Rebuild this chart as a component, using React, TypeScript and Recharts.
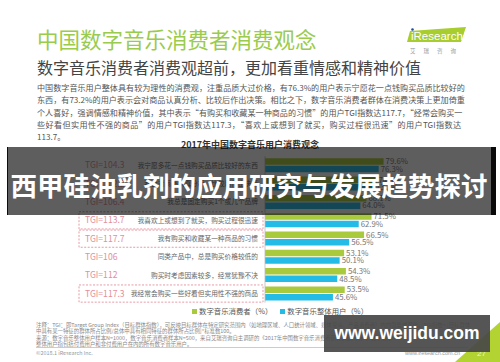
import React from "react";
import { BarChart, Bar, XAxis, YAxis, LabelList } from "recharts";

const categories = [
  "我宁愿多花一点钱购买品质比较好的东西",
  "我会对商品认真分析、比较后作出决策",
  "我总是固定购买1个或几个品牌",
  "我喜欢上或想到了就买，购买过程很迅速",
  "我有购买和收藏某一种商品的习惯",
  "同类产品中，总是购买价格较低的",
  "购买时考虑因素较多，经常犹豫不决",
  "我经常会购买一些好看但实用性不强的商品",
];
const tgiLabels = ["TGI=104.3", "TGI=102.2", "TGI=106.4", "TGI=113.7", "TGI=117.7", "TGI=106", "TGI=112", "TGI=117.3"];
const boxed = [false, false, false, true, true, false, false, true];
const consumers = [79.6, 74.8, 68.1, 71.5, 66.5, 53.1, 54.3, 53.5];
const allUsers = [76.3, 73.2, 64.0, 62.9, 56.5, 50.1, 48.5, 45.6];
const seriesNames = ["数字音乐消费者（%）", "数字音乐整体用户（%）"];

const paragraph = [
  "中国数字音乐用户整体具有较为理性的消费观，注重品质大过价格，有76.3%的用户表示宁愿花一点钱购买品质比较好的",
  "东西，有73.2%的用户表示会对商品认真分析、比较后作出决策。相比之下，数字音乐消费者群体在消费决策上更加倚重",
  "个人喜好，强调情感和精神价值，其中表示“有购买和收藏某一种商品的习惯”的用户TGI指数达117.7，“经常会购买一",
  "些好看但实用性不强的商品”的用户TGI指数达117.3，“喜欢上或想到了就买，购买过程很迅速”的用户TGI指数达",
  "113.7。",
];
const notes = [
  "注释：TGI：即Target Group Index（目标群体指数），可反映目标群体在特定研究范围内（如地理区域、人口统计领域、媒体受众、产品消费者）内的强势或弱势。TGI指数= [目标群体",
  "中具有某一特征的群体所占比例/总体中具有相同特征的群体所占比例]*标准数100。",
  "来源：数字音乐整体用户样本N=1000，数字音乐消费者样本N=500，来自艾瑞咨询自主调研的《2017年中国数字音乐消费者研究调研问卷》。数字音乐",
  "整体用户指包括付费用户和非付费用户在内的所有数字音乐用户。",
];

const data = categories.map((name, i) => ({
  name,
  consumers: consumers[i],
  allUsers: allUsers[i],
}));

const GREEN = "#a9ca3c";
const CYAN = "#24bbe6";
const PINK = "#e48e9c";
const CJK = '"Noto Sans CJK SC", "Noto Sans", sans-serif';

function RowTick(props: any) {
  const { y, payload } = props;
  const i = categories.indexOf(payload.value);
  return (
    <g>
      {boxed[i] && (
        <rect x={79} y={y - 8.6} width={184} height={17.2} fill="none" stroke={PINK} strokeWidth={0.9} strokeDasharray="2 1.5" />
      )}
      <text x={85} y={y} dy={3} fontSize={8.6} fill={PINK} fontFamily={CJK} textAnchor="start">
        {tgiLabels[i]}
      </text>
      <text x={258} y={y} dy={2.4} fontSize={6.7} fill="#666" fontFamily={CJK} textAnchor="end">
        {payload.value}
      </text>
    </g>
  );
}

export default function App() {
  const colors = [GREEN, CYAN];
  return (
    <div style={{ position: "absolute", left: 0, top: 0, width: 500, height: 362, background: "#fff", overflow: "hidden", fontFamily: CJK }}>
      {/* header */}
      <div style={{ position: "absolute", left: 37, top: 24, fontSize: 21.5, color: "#9acb4c", lineHeight: "30px", whiteSpace: "nowrap" }}>
        中国数字音乐消费者消费观念
      </div>
      <svg style={{ position: "absolute", left: 0, top: 0 }} width={500} height={362}>
        <polygon points="410,31 466,27 461,42 407,42" fill="#a8cd2e" />
        <text x={411} y={39.5} fontSize={11.5} fill="#fff" fontFamily="Liberation Sans, Arial, sans-serif">iResearch</text>
        <circle cx={412.5} cy={29.5} r={1.3} fill="#1a4f9c" />
        <text x={410} y={53} fontSize={5.5} fill="#999" fontFamily={CJK} letterSpacing={8}>艾瑞咨询</text>
        <polygon points="500,322 500,362 455,362" fill="#b3d332" />
        <line x1={36} y1={347.5} x2={468} y2={347.5} stroke="#aaa" strokeWidth={0.6} />
        <text x={405} y={355} fontSize={5.5} fill="#999" fontFamily="Liberation Sans, Arial, sans-serif">www.iresearch.com.cn</text>
        <text x={477} y={356} fontSize={8} fill="#eef5d0" fontFamily="Liberation Sans, Arial, sans-serif">27</text>
      </svg>
      <div style={{ position: "absolute", left: 37, top: 56, fontSize: 16, color: "#444", lineHeight: "22px", whiteSpace: "nowrap" }}>
        数字音乐消费者消费观超前，更加看重情感和精神价值
      </div>
      {paragraph.map((line, i) => (
        <div
          key={i}
          style={{
            position: "absolute",
            left: 37,
            top: 82 + i * 12.3,
            width: i < 4 ? 424 : undefined,
            fontSize: 8.1,
            color: "#555",
            lineHeight: "12px",
            whiteSpace: "nowrap",
            textAlign: "justify",
            textAlignLast: i < 4 ? "justify" : "left",
          }}
        >
          {line}
        </div>
      ))}
      <div style={{ position: "absolute", left: 0, width: 500, top: 139, textAlign: "center", fontSize: 9, fontWeight: 700, color: "#333", lineHeight: "12px" }}>
        2017年中国数字音乐用户消费观念
      </div>

      <div style={{ position: "absolute", left: 0, top: 0 }}>
        <BarChart
          width={500}
          height={362}
          data={data}
          layout="vertical"
          margin={{ top: 156.3, right: 86, bottom: 59.3, left: 0 }}
          barSize={6.5}
          barGap={1}
        >
          <XAxis type="number" domain={[0, 100]} hide />
          <YAxis
            type="category"
            dataKey="name"
            width={265}
            axisLine={{ stroke: "#bbb", strokeWidth: 0.8 }}
            tickLine={false}
            tick={<RowTick />}
            interval={0}
          />
          <Bar dataKey="consumers" fill={GREEN} isAnimationActive={false}>
            <LabelList dataKey="consumers" position="right" offset={2} fontSize={7.8} fill="#777" formatter={(v: any) => `${Number(v).toFixed(1)}%`} />
          </Bar>
          <Bar dataKey="allUsers" fill={CYAN} isAnimationActive={false}>
            <LabelList dataKey="allUsers" position="right" offset={2} fontSize={7.8} fill="#777" formatter={(v: any) => `${Number(v).toFixed(1)}%`} />
          </Bar>
        </BarChart>
      </div>

      {/* legend */}
      <div style={{ position: "absolute", left: 192, top: 306, display: "flex", fontSize: 7.4, color: "#555", lineHeight: "10px", whiteSpace: "nowrap" }}>
        {seriesNames.map((n, i) => (
          <div key={n} style={{ display: "flex", alignItems: "center", marginRight: 8 }}>
            <span style={{ width: 5, height: 5, background: colors[i], display: "inline-block", marginRight: 2 }} />
            {n}
          </div>
        ))}
      </div>

      {notes.map((line, i) => (
        <div
          key={i}
          style={{
            position: "absolute",
            left: 36,
            top: [322, 328, 334.5, 340.5][i],
            fontSize: 5.4,
            color: "#888",
            lineHeight: "7px",
            whiteSpace: "nowrap",
          }}
        >
          {line}
        </div>
      ))}
      <div style={{ position: "absolute", left: 36, top: 349.5, fontSize: 5.4, color: "#999", lineHeight: "7px", whiteSpace: "nowrap" }}>
        ©2018.1 iResearch Inc.
      </div>

      {/* overlay banner */}
      <div
        style={{
          position: "absolute",
          left: 7,
          top: 147,
          width: 483,
          height: 68,
          background: "rgba(10,10,10,0.66)",
          borderLeft: "1px solid rgba(0,0,0,0.85)",
          borderRight: "5px solid rgba(0,0,0,0.9)",
        }}
      />
      <div
        style={{
          position: "absolute",
          left: 0,
          width: 498,
          top: 166,
          textAlign: "center",
          fontSize: 26.5,
          fontWeight: 700,
          color: "#fff",
          lineHeight: "38px",
          whiteSpace: "nowrap",
        }}
      >
        西甲硅油乳剂的应用研究与发展趋势探讨
      </div>

      {/* watermark */}
      <div
        style={{
          position: "absolute",
          left: 324,
          top: 315,
          width: 166,
          height: 37,
          background: "rgba(70,70,70,0.92)",
          color: "#fff",
          fontFamily: "Liberation Sans, Arial, sans-serif",
          fontWeight: 700,
          fontSize: 17.5,
          lineHeight: "37px",
          textAlign: "center",
        }}
      >
        www.weijidu.com
      </div>
    </div>
  );
}
